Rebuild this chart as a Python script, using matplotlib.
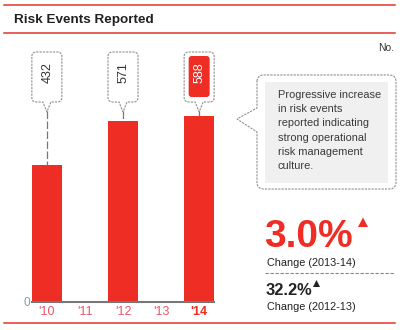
import numpy as np
import matplotlib.pyplot as plt
from matplotlib.patches import Polygon, FancyBboxPatch

plt.rcParams['font.family'] = ['Liberation Sans', 'DejaVu Sans']

years = ["'10", "'11", "'12", "'13", "'14"]
events = [432, np.nan, 571, np.nan, 588]
note_lines = ["Progressive increase", "in risk events", "reported indicating",
              "strong operational", "risk management", "culture."]
change_big = "3.0%"
change_big_label = "Change (2013-14)"
change_small = "32.2%"
change_small_label = "Change (2012-13)"

RED = '#ee2e24'
PINK = '#e8566c'

W, H = 400, 330
fig = plt.figure(figsize=(W / 100, H / 100), dpi=100)

# bar axes, placed in pixels
base_y, top_y = 302, 45
ax = fig.add_axes([32 / W, (H - base_y) / H, 182 / W, (base_y - top_y) / H])
x = np.arange(len(years))
vals = np.nan_to_num(np.array(events, dtype=float))
ax.bar(x, vals, width=0.78, color=RED, zorder=2)
ax.set_xlim(-0.39, len(years) - 1 + 0.39)
ax.set_ylim(0, (base_y - top_y) / 0.317)
for s in ['top', 'right', 'left']:
    ax.spines[s].set_visible(False)
ax.spines['bottom'].set_color('#777777')
ax.spines['bottom'].set_linewidth(1.5)
ax.set_yticks([0])
ax.set_yticklabels(['0'], color='#7f9bb0', fontsize=8.5)
ax.tick_params(axis='y', length=0, pad=1)
ax.set_xticks(x)
ax.set_xticklabels(years, fontsize=9)
ax.tick_params(axis='x', length=0, pad=3)
for i, lab in enumerate(ax.get_xticklabels()):
    if i == len(years) - 1:
        lab.set_color(RED)
        lab.set_fontweight('bold')
    else:
        lab.set_color(PINK)

# overlay in pixel coords (y down)
ov = fig.add_axes([0, 0, 1, 1], zorder=5)
ov.set_xlim(0, W)
ov.set_ylim(H, 0)
ov.axis('off')
ov.patch.set_alpha(0)


def rrect_pts(x0, y0, x1, y1, r, n=5):
    pts = []
    for cx, cy, a0 in [(x0 + r, y0 + r, 180), (x1 - r, y0 + r, 270),
                       (x1 - r, y1 - r, 0), (x0 + r, y1 - r, 90)]:
        for a in np.linspace(a0, a0 + 90, n):
            t = np.radians(a)
            pts.append((cx + r * np.cos(t), cy + r * np.sin(t)))
    return pts


def callout_bottom(x0, y0, x1, y1, r, cx, half, tip):
    pts = rrect_pts(x0, y0, x1, y1, r)
    k = 15  # pointer goes on the bottom edge
    ptr = [(cx + half, y1), (cx, tip), (cx - half, y1)]
    return pts[:k] + ptr + pts[k:]


def callout_left(x0, y0, x1, y1, r, ya, yb, tipx, tipy):
    pts = rrect_pts(x0, y0, x1, y1, r)
    ptr = [(x0, yb), (tipx, tipy), (x0, ya)]
    return pts + ptr


dash = dict(fill=True, facecolor='white', edgecolor='#8f8f8f', lw=0.8,
            linestyle=(0, (2, 1)))

fig.canvas.draw()
for i, v in enumerate(events):
    if np.isnan(v):
        continue
    px, py = ax.transData.transform((i, v))
    cx = px
    bar_top = H - py
    ov.plot([cx, cx], [111, bar_top], color='#777777', lw=0.9,
            linestyle=(0, (6, 2)), zorder=3)
    ov.add_patch(Polygon(callout_bottom(cx - 15, 52, cx + 15, 102, 4, cx, 4, 112),
                         closed=True, zorder=4, **dash))
    if i == len(events) - 1:
        ov.add_patch(FancyBboxPatch((cx - 10.5, 56), 21, 41,
                                    boxstyle='round,pad=0,rounding_size=3',
                                    facecolor=RED, edgecolor='none', zorder=5))
        tc = 'white'
    else:
        tc = '#333333'
    ov.text(cx + 0.5, 73, f'{int(v)}', rotation=90, ha='center', va='center',
            fontsize=9, color=tc, zorder=6)

# header lines and title
for yy in [5, 33, 323]:
    ov.plot([4, 395], [yy, yy], color='#e0352b', lw=1.1)
ov.text(14, 20, 'Risk Events Reported', fontsize=9.7, fontweight='bold',
        color='#222222', va='center', ha='left')
ov.text(394, 48, 'No.', fontsize=7.5, color='#333333', ha='right', va='center')

# right note callout
ov.add_patch(Polygon(callout_left(257, 75, 396, 189, 6, 108, 132, 237, 119),
                     closed=True, **dash))
ov.add_patch(plt.Rectangle((265, 82), 123, 101, facecolor='#eff0ef',
                           edgecolor='none'))
for j, line in enumerate(note_lines):
    ov.text(278, 95 + j * 14.2, line, fontsize=7.9, color='#3a3a3a',
            ha='left', va='center')

# change figures
ov.text(264, 247, change_big, fontsize=28, fontweight='bold', color=RED,
        ha='left', va='baseline')
ov.add_patch(Polygon([(358, 227), (368, 227), (363, 217.5)], closed=True,
                     facecolor=RED, edgecolor='none'))
ov.text(267, 263, change_big_label, fontsize=7.8, color='#222222',
        ha='left', va='center')
ov.plot([265, 395], [273, 273], color='#888888', lw=0.8, linestyle=(0, (3, 1.5)))
ov.text(266, 295, change_small, fontsize=11.8, fontweight='bold',
        color='#222222', ha='left', va='baseline')
ov.add_patch(Polygon([(313, 287), (320, 287), (316.5, 280)], closed=True,
                     facecolor='#222222', edgecolor='none'))
ov.text(267, 307, change_small_label, fontsize=7.8, color='#222222',
        ha='left', va='center')

fig.savefig('out.png', dpi=100)
